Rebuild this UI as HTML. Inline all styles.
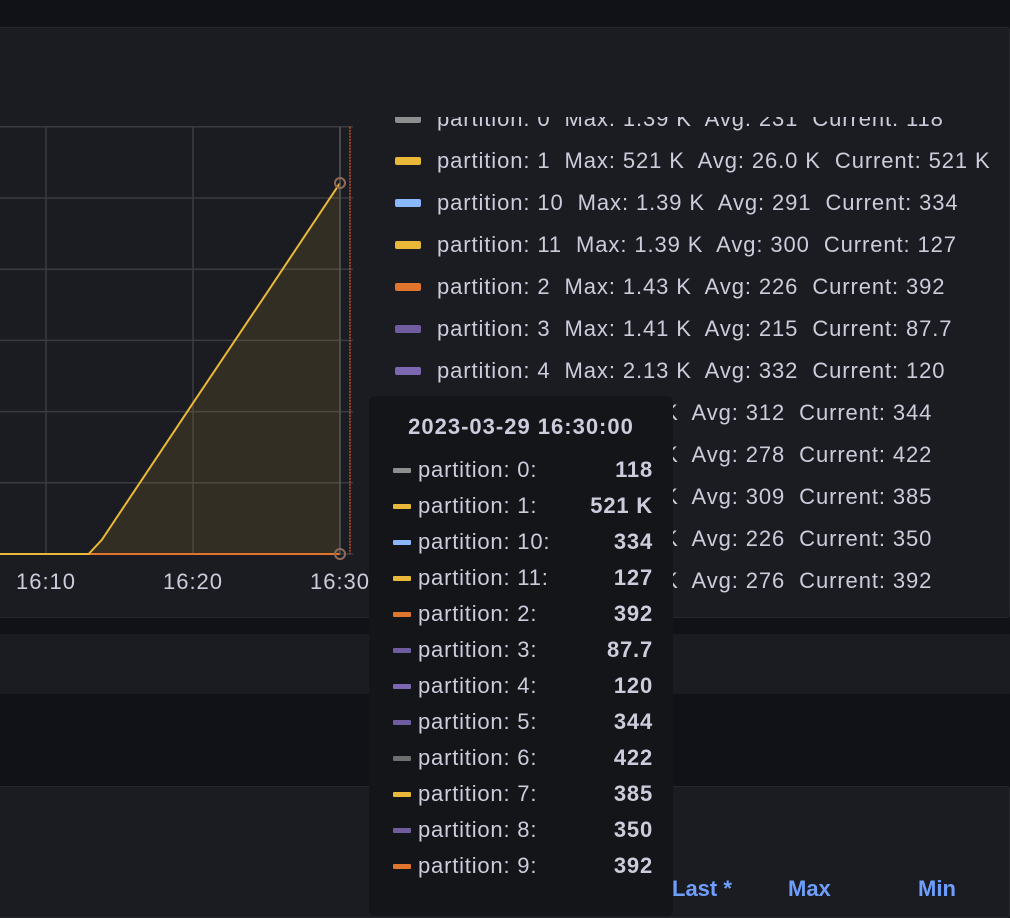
<!DOCTYPE html>
<html><head><meta charset="utf-8">
<style>
body{margin:0;width:1010px;height:900px;overflow:hidden;background:#111217;font-family:"Liberation Sans",sans-serif;position:relative}
.panel{position:absolute;background:#1b1c21;border:1px solid #26272d;border-radius:3px}
#legend{position:absolute;left:380px;top:117px;width:630px;height:482px;overflow:hidden}
.leg{position:absolute;left:15px;color:#ccccdc;font-size:22px;letter-spacing:0.9px;white-space:pre;height:30px;line-height:30px}
.leg i{position:absolute;left:0;top:11px;width:26px;height:8px;border-radius:2px}
.leg span{position:absolute;left:42px}
#tip{position:absolute;left:369px;top:396px;width:304px;height:520px;background:#141519;border-radius:6px;color:#ccccdc}
.row{position:absolute;left:0;width:304px;height:30px;line-height:30px;font-size:22px;letter-spacing:0.8px}
.row i{position:absolute;left:24px;top:13px;width:18px;height:5px;border-radius:1px}
.row .l{position:absolute;left:49px}
.row .v{position:absolute;right:20px;font-weight:bold}
.hdr{position:absolute;font-size:22px;font-weight:bold;color:#6e9fff;top:876px}
</style></head><body>
<div class="panel" style="left:-4px;top:27px;width:1012px;height:589px"></div>
<div class="panel" style="left:-4px;top:634px;width:1016px;height:60px;border:none"></div>
<div class="panel" style="left:-4px;top:786px;width:1012px;height:130px"></div>

<svg id="chart" width="370" height="600" style="position:absolute;left:0;top:0"></svg>

<div id="legend"></div>

<div id="tip">
<div style="position:absolute;left:0;width:304px;top:18px;text-align:center;font-weight:bold;font-size:22px;letter-spacing:1px;color:#ccccdc">2023-03-29 16:30:00</div>
</div>
<div class="hdr" style="left:672px">Last *</div>
<div class="hdr" style="left:788px">Max</div>
<div class="hdr" style="left:918px">Min</div>

<script>
const names=["partition: 0","partition: 1","partition: 10","partition: 11","partition: 2","partition: 3","partition: 4","partition: 5","partition: 6","partition: 7","partition: 8","partition: 9"];
const maxLabels=["1.39 K","521 K","1.39 K","1.39 K","1.43 K","1.41 K","2.13 K","1.4 K","1.4 K","1.4 K","1.4 K","1.4 K"];
const avgLabels=["231","26.0 K","291","300","226","215","332","312","278","309","226","276"];
const currentValues=["118","521 K","334","127","392","87.7","120","344","422","385","350","392"];
const colors=["#8e8e8e","#eab839","#8ab8ff","#eab839","#e0752d","#705da0","#7b68b0","#705da0","#6e6e6e","#eab839","#705da0","#e0752d"];
const timesMin=[0,5,10,12.9,13.8,20,25,30];
const p1Values=[0,0,0,0,20000,212000,366000,521000];
const yTicks=[0,100000,200000,300000,400000,500000,600000];
const xTicks=[10,20,30];
const xTickLabels=["16:10","16:20","16:30"];

const NS="http://www.w3.org/2000/svg";
const svg=document.getElementById('chart');
const X=t=>46+(t-10)*14.7;
const Y=v=>554-v/100000*71.2;
function mk(tag,attrs){const e=document.createElementNS(NS,tag);for(const k in attrs)e.setAttribute(k,attrs[k]);svg.appendChild(e);return e;}
yTicks.forEach(v=>{const l=mk('line',{x1:0,x2:353,y1:Y(v),y2:Y(v),stroke:'#3a3b40','stroke-width':1.5});

});
xTicks.forEach((t,i)=>{const l=mk('line',{x1:X(t),x2:X(t),y1:Y(600000),y2:Y(0),stroke:'#3a3b40','stroke-width':1.5});


const tx=mk('text',{x:X(t),y:589,'text-anchor':'middle',fill:'#ccccdc','font-size':22,'letter-spacing':1,'font-family':'Liberation Sans, sans-serif'});
tx.textContent=xTickLabels[i];

});
let d='';timesMin.forEach((t,i)=>{d+=(i?'L':'M')+X(t)+','+Y(p1Values[i]);});
const area=mk('path',{d:d+'L'+X(timesMin[timesMin.length-1])+','+Y(0)+'L'+X(timesMin[0])+','+Y(0)+'Z',fill:'rgba(234,184,57,0.12)'});


const base=mk('line',{x1:0,x2:X(30),y1:Y(0),y2:Y(0),stroke:'#e0752d','stroke-width':2});


const line=mk('path',{d:d,fill:'none',stroke:'#eab839','stroke-width':2});


const hv=mk('line',{x1:X(30),x2:X(30),y1:Y(600000),y2:Y(0),stroke:'#555','stroke-width':1.5});


const rl=mk('line',{x1:350,x2:350,y1:Y(600000),y2:Y(0),stroke:'#c4502c','stroke-width':1.5,'stroke-dasharray':'2,1'});


[p1Values[p1Values.length-1],0].forEach(v=>{const c=mk('circle',{cx:X(30),cy:Y(v),r:5,fill:'none',stroke:'#8e6a5a','stroke-width':2});

});

const leg=document.getElementById('legend');
names.forEach((n,i)=>{const r=document.createElement('div');r.className='leg';r.style.top=(-13+i*42)+'px';


r.innerHTML='<i style="background:'+colors[i]+'"></i><span>'+n+'  Max: '+maxLabels[i]+'  Avg: '+avgLabels[i]+'  Current: '+currentValues[i]+'</span>';leg.appendChild(r);});
const tip=document.getElementById('tip');
names.forEach((n,i)=>{const r=document.createElement('div');r.className='row';r.style.top=(59+i*36)+'px';


r.innerHTML='<i style="background:'+colors[i]+'"></i><span class="l">'+n+':</span><span class="v">'+currentValues[i]+'</span>';tip.appendChild(r);});
</script>
</body></html>
